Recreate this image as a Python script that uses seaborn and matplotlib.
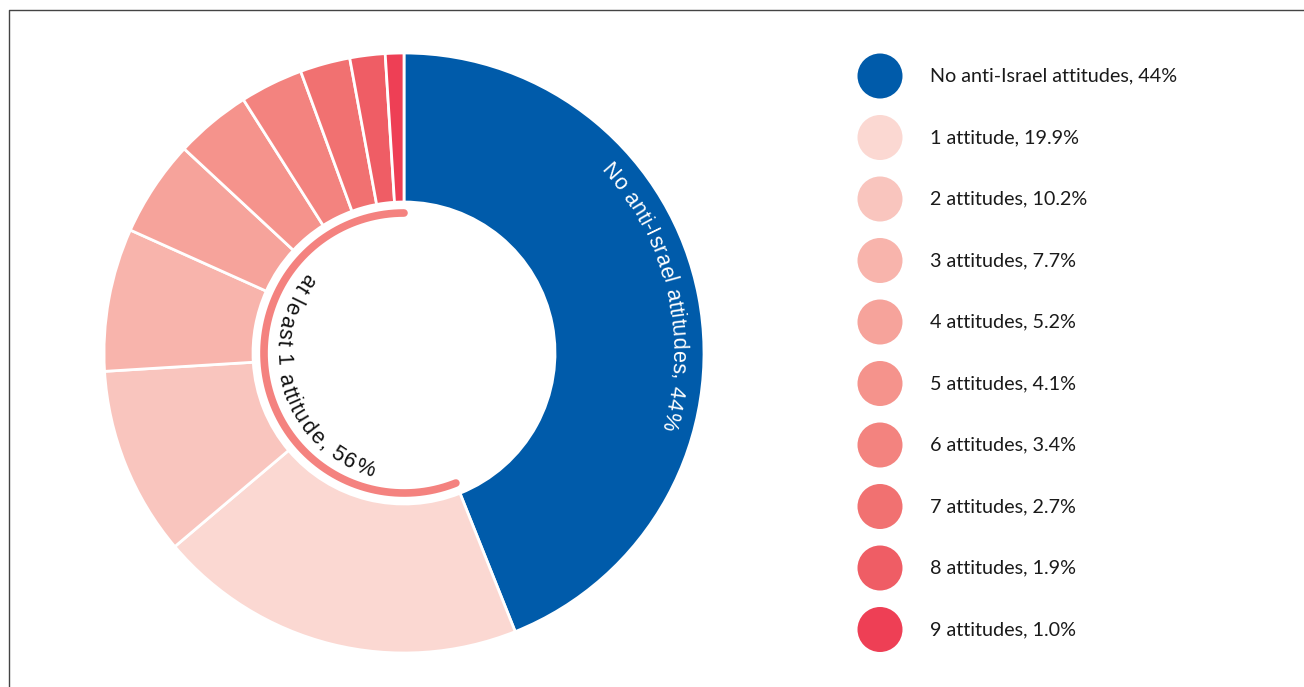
import numpy as np
import pandas as pd
import seaborn as sns
import matplotlib.pyplot as plt
from matplotlib.font_manager import FontProperties
from matplotlib.textpath import TextToPath

# データ
labels = ["No anti-Israel attitudes", "1 attitude", "2 attitudes", "3 attitudes",
          "4 attitudes", "5 attitudes", "6 attitudes", "7 attitudes",
          "8 attitudes", "9 attitudes"]
shares = [44, 19.9, 10.2, 7.7, 5.2, 4.1, 3.4, 2.7, 1.9, 1.0]
share_text = ["44%", "19.9%", "10.2%", "7.7%", "5.2%", "4.1%", "3.4%", "2.7%", "1.9%", "1.0%"]
colors = ["#005BAA", "#FBD8D2", "#F9C5BE", "#F8B4AC", "#F6A39B",
          "#F5938C", "#F3837F", "#F17171", "#EF5D65", "#EE3F55"]
outer_label = "No anti-Israel attitudes, 44%"
inner_label = "at least 1 attitude, 56%"

W, H = 1304, 687
CX, CY = 404, H - 353  # 円の中心(ピクセル)


def advances(text, prop):
    ttp = TextToPath()
    base = ttp.get_text_width_height_descent("HH", prop, ismath=False)[0]
    return [ttp.get_text_width_height_descent("H" + c + "H", prop, ismath=False)[0] - base
            for c in text]


def curved_text(ax, text, radius, a0, a1, prop, color, outward=True):
    """円弧に沿って一文字ずつ配置"""
    adv = np.array(advances(text, prop))
    pos = np.cumsum(adv) - adv / 2
    frac = (pos - pos[0]) / (pos[-1] - pos[0])
    angles = a0 + (a1 - a0) * frac
    for ch, ang in zip(text, angles):
        if ch == " ":
            continue
        t = np.deg2rad(ang)
        x = CX + radius * np.cos(t)
        y = CY + radius * np.sin(t)
        rot = ang - 90 if outward else ang + 90
        ax.text(x, y, ch, rotation=rot, rotation_mode="anchor", ha="center",
                va="center", fontproperties=prop, color=color)


sns.set_theme(style="white")
plt.rcParams["font.family"] = ["Lato", "DejaVu Sans"]

fig = plt.figure(figsize=(W / 100, H / 100), dpi=100)
ax = fig.add_axes([0, 0, 1, 1])

ax.pie(shares, colors=colors, startangle=90, counterclock=False, radius=300,
       center=(CX, CY), wedgeprops=dict(width=149, edgecolor="white", linewidth=2))

# 内側の弧 (1つ以上)
total = sum(shares)
span = 360 * sum(shares[1:]) / total
th = np.deg2rad(np.linspace(90, 90 + span, 200))
ax.plot(CX + 140 * np.cos(th), CY + 140 * np.sin(th), color="#F4827F",
        lw=5.5, solid_capstyle="round")

arc_font = FontProperties(family="Liberation Sans", size=15.5)
curved_text(ax, outer_label, 274, 41.3, -14.2, arc_font, "white", outward=True)
curved_text(ax, inner_label, 122, 143.0, 251.5, arc_font, "#111111", outward=False)

# 凡例
leg_y = [H - (76 + i * 61.5) for i in range(len(labels))]
leg = pd.DataFrame({"x": [880] * len(labels), "y": leg_y, "label": labels})
sns.scatterplot(data=leg, x="x", y="y", hue="label", palette=colors, s=1050,
                linewidth=0, legend=False, ax=ax)
for lab, txt, y in zip(labels, share_text, leg_y):
    ax.text(930, y, f"{lab}, {txt}", ha="left", va="center", fontsize=14.2,
            color="#1a1a1a")

# 枠線
ax.plot([8.5, 8.5, W + 10], [-10, H - 9.5, H - 9.5], color="#444444", lw=1.0,
        clip_on=False)

ax.set_xlim(0, W)
ax.set_ylim(0, H)
ax.set_aspect("equal")
ax.axis("off")

plt.savefig("out.png", dpi=100)
